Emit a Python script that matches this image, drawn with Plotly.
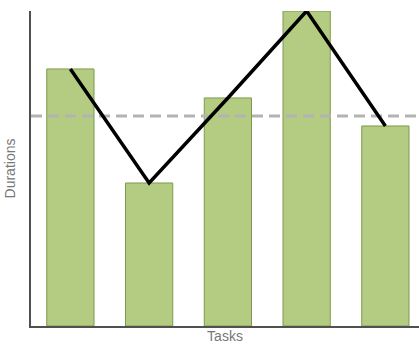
import plotly.graph_objects as go

tasks = ["Task 1", "Task 2", "Task 3", "Task 4", "Task 5"]
durations = [8.16, 4.54, 7.24, 10.0, 6.35]
target = 6.67

positions = list(range(len(tasks)))
x_range = [-0.5, 4.427]

fig = go.Figure()
fig.add_trace(go.Bar(
    x=positions, y=durations, name="Durations",
    marker=dict(color="#b4cb82", line=dict(color="#7d9a4c", width=1)),
    showlegend=False, hoverinfo="skip",
))
fig.add_trace(go.Scatter(
    x=x_range, y=[target, target], mode="lines",
    line=dict(color="#b3b3b3", width=3, dash="11px,6px"),
    showlegend=False, hoverinfo="skip", cliponaxis=False,
))
fig.add_trace(go.Scatter(
    x=positions, y=durations, mode="lines",
    line=dict(color="black", width=3.5),
    showlegend=False, hoverinfo="skip", cliponaxis=False,
))

fig.update_layout(
    width=419, height=347,
    margin=dict(l=31, r=0, t=11, b=21),
    plot_bgcolor="white", paper_bgcolor="white",
    bargap=0.4,
    font=dict(family="Liberation Sans, Arial, sans-serif", size=12, color="#777777"),
    xaxis=dict(range=x_range, showline=True, linecolor="#505050", linewidth=2,
               tickvals=positions, ticktext=tasks,
               showticklabels=False, ticks="", showgrid=False, zeroline=False,
               title=dict(text="Tasks", standoff=4, font=dict(color="#777777")), automargin=False),
    yaxis=dict(range=[0, 10], showline=True, linecolor="#505050", linewidth=2,
               showticklabels=False, ticks="", showgrid=False, zeroline=False,
               title=dict(text="Durations", standoff=10, font=dict(color="#777777")), automargin=False),
)
fig.write_html("out.html")
